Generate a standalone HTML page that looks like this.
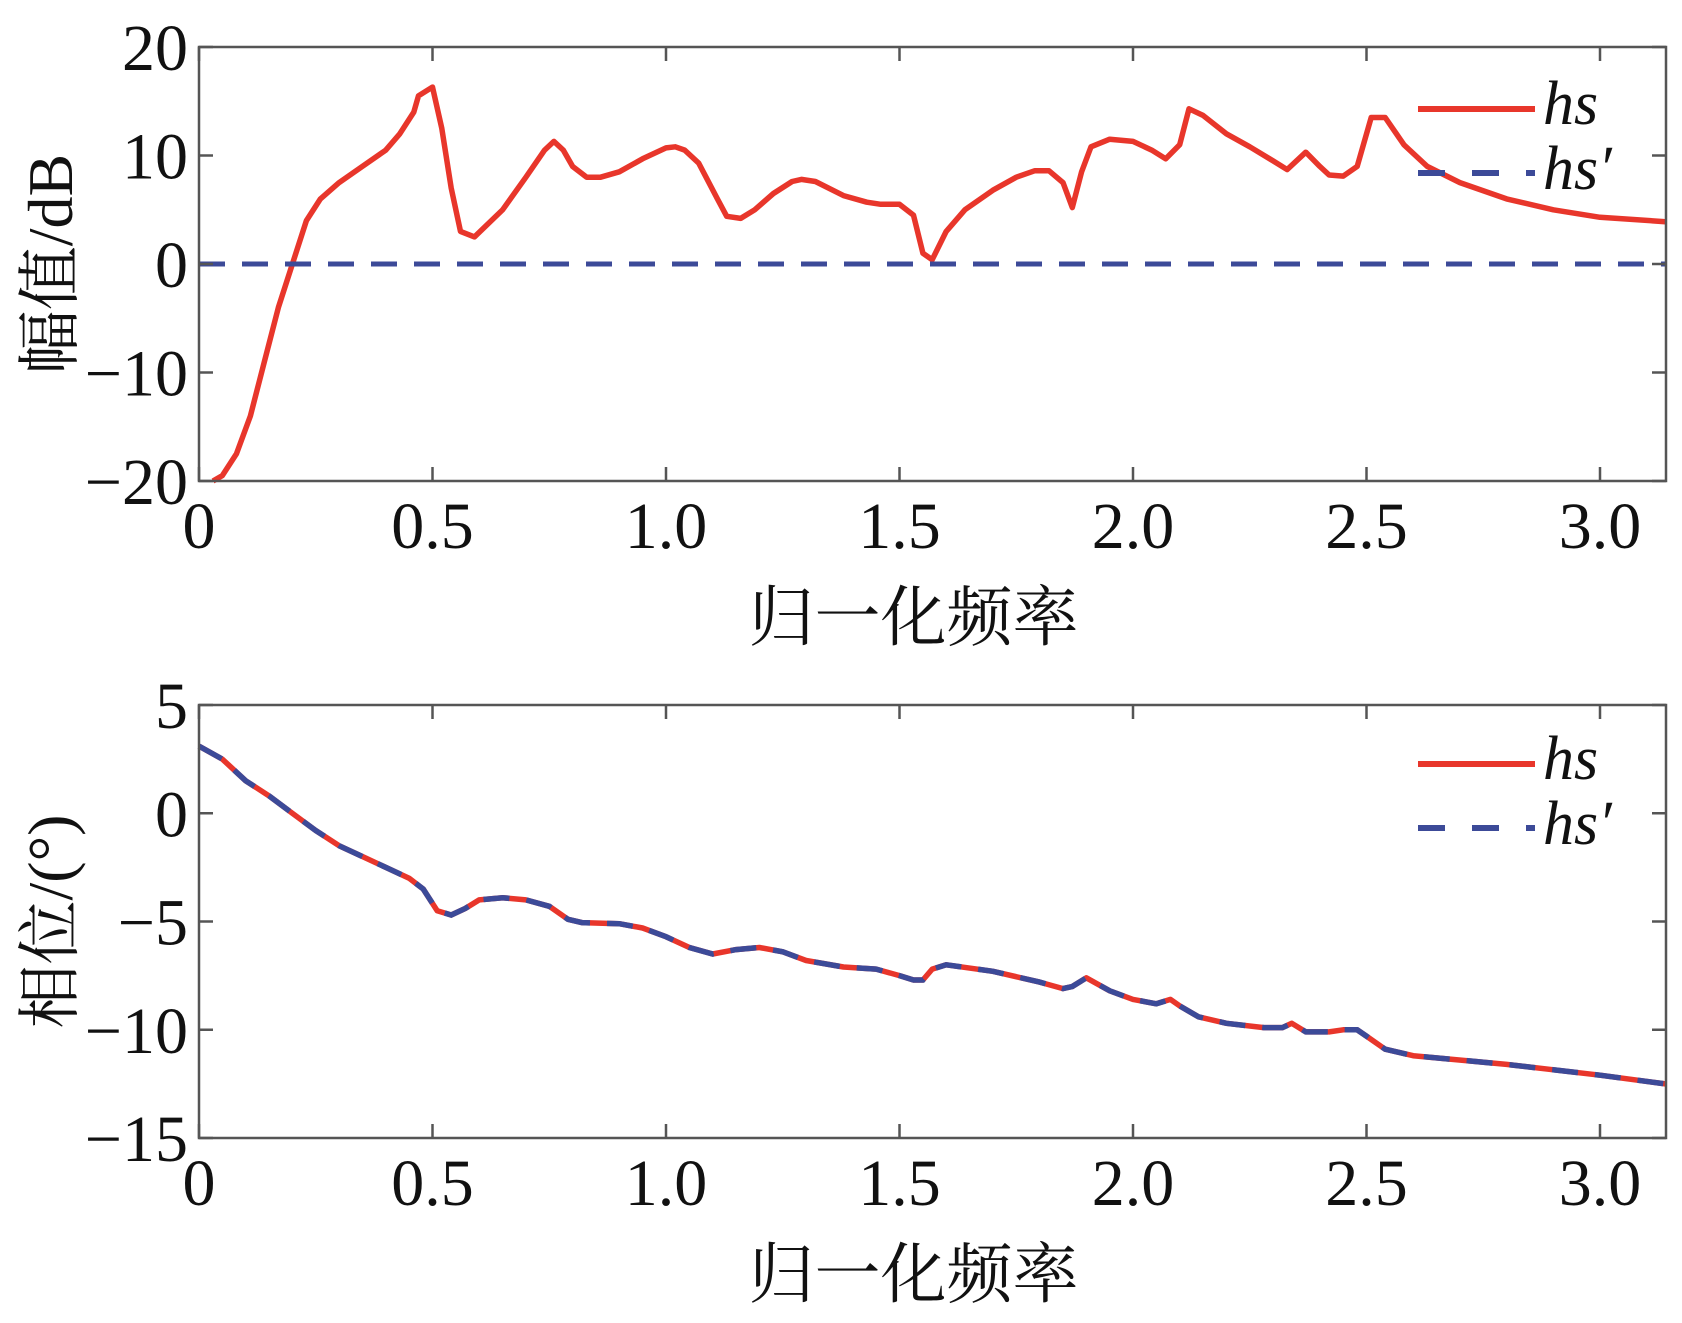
<!DOCTYPE html>
<html><head><meta charset="utf-8"><style>
html,body{margin:0;padding:0;background:#fff;}
svg{display:block;}
text{font-family:"Liberation Serif","Times New Roman",serif;fill:#111;}
.cjk{font-family:"Liberation Serif","Noto Serif CJK SC","Noto Sans CJK SC",serif;}
</style></head><body>
<svg id="s" width="1682" height="1323" viewBox="0 0 1682 1323" xmlns="http://www.w3.org/2000/svg">
<g id="g"></g>
</svg>
<script>
const NS="http://www.w3.org/2000/svg";const g=document.getElementById('g');
function el(t,a,txt){const e=document.createElementNS(NS,t);for(const k in a)e.setAttribute(k,a[k]);if(txt!==undefined)e.textContent=txt;g.appendChild(e);return e;}
const X0=199,XS=467,R=1666;
const mag=[[0.03,-20],[0.05,-19.5],[0.08,-17.5],[0.11,-14],[0.14,-9],[0.17,-4],[0.2,0],[0.23,4],[0.26,6],[0.3,7.5],[0.35,9],[0.4,10.5],[0.43,12],[0.46,14],[0.47,15.5],[0.5,16.3],[0.52,12.5],[0.54,7],[0.56,3],[0.59,2.5],[0.65,5],[0.7,8],[0.74,10.5],[0.76,11.3],[0.78,10.5],[0.8,9],[0.83,8],[0.86,8],[0.9,8.5],[0.95,9.7],[1.0,10.7],[1.02,10.8],[1.04,10.5],[1.07,9.3],[1.11,6],[1.13,4.4],[1.16,4.2],[1.19,5],[1.23,6.5],[1.27,7.6],[1.29,7.8],[1.32,7.6],[1.38,6.3],[1.43,5.7],[1.46,5.5],[1.5,5.5],[1.53,4.5],[1.55,1],[1.57,0.4],[1.6,3],[1.64,5],[1.7,6.8],[1.75,8],[1.79,8.6],[1.82,8.6],[1.85,7.5],[1.87,5.2],[1.89,8.5],[1.91,10.8],[1.95,11.5],[2.0,11.3],[2.04,10.5],[2.07,9.7],[2.1,11],[2.12,14.3],[2.15,13.7],[2.2,12],[2.25,10.8],[2.3,9.5],[2.33,8.7],[2.37,10.3],[2.4,9],[2.42,8.2],[2.45,8.1],[2.48,9],[2.51,13.5],[2.54,13.5],[2.58,11],[2.63,9],[2.7,7.5],[2.8,6],[2.9,5],[3.0,4.3],[3.14,3.9]];
const ph=[[0,3.1],[0.05,2.5],[0.1,1.5],[0.15,0.8],[0.2,0],[0.25,-0.8],[0.3,-1.5],[0.35,-2],[0.4,-2.5],[0.45,-3],[0.48,-3.5],[0.51,-4.5],[0.54,-4.7],[0.57,-4.4],[0.6,-4],[0.65,-3.9],[0.7,-4],[0.75,-4.3],[0.79,-4.9],[0.82,-5.05],[0.9,-5.1],[0.95,-5.3],[1.0,-5.7],[1.05,-6.2],[1.1,-6.5],[1.15,-6.3],[1.2,-6.2],[1.25,-6.4],[1.3,-6.8],[1.38,-7.1],[1.45,-7.2],[1.5,-7.5],[1.53,-7.7],[1.55,-7.7],[1.57,-7.2],[1.6,-7],[1.7,-7.3],[1.8,-7.8],[1.85,-8.1],[1.87,-8],[1.9,-7.6],[1.95,-8.2],[2.0,-8.6],[2.05,-8.8],[2.08,-8.6],[2.1,-8.9],[2.14,-9.4],[2.2,-9.7],[2.28,-9.9],[2.32,-9.9],[2.34,-9.7],[2.37,-10.1],[2.42,-10.1],[2.45,-10],[2.48,-10],[2.5,-10.3],[2.54,-10.9],[2.6,-11.2],[2.8,-11.6],[3.0,-12.1],[3.14,-12.5]];
function panel(T,B,y0,ys,ymin,ymax,ystep,data,ylab,xlabY,legY){
  const Y=v=>y0-ys*v;
  const pts=data.map(p=>(X0+XS*p[0]).toFixed(1)+','+Y(p[1]).toFixed(1)).join(' ');
  el('polyline',{points:pts,fill:'none',stroke:'#e8362b','stroke-width':5.5,'stroke-linejoin':'round'});
  if(data===ph) el('polyline',{points:pts,fill:'none',stroke:'#3c4a98','stroke-width':5.5,'stroke-dasharray':'26 17'});
  else el('line',{x1:X0,y1:Y(0),x2:R,y2:Y(0),stroke:'#3c4a98','stroke-width':5,'stroke-dasharray':'26 17'});
  el('rect',{x:X0,y:T,width:R-X0,height:B-T,fill:'none',stroke:'#555','stroke-width':2.5});
  for(let x=0;x<=3.01;x+=0.5){const px=X0+XS*x;el('line',{x1:px,y1:B,x2:px,y2:B-14,stroke:'#555','stroke-width':2.5});el('line',{x1:px,y1:T,x2:px,y2:T+14,stroke:'#555','stroke-width':2.5});
    el('text',{x:px,y:B+67,'font-size':66,'text-anchor':'middle'},x===0?'0':x.toFixed(1));}
  for(let v=ymin;v<=ymax;v+=ystep){const py=Y(v);el('line',{x1:X0,y1:py,x2:X0+14,y2:py,stroke:'#555','stroke-width':2.5});el('line',{x1:R,y1:py,x2:R-14,y2:py,stroke:'#555','stroke-width':2.5});
    el('text',{x:188,y:py+23,'font-size':66,'text-anchor':'end'},v<0?'\u2212'+(-v):String(v));}
  el('text',{x:(X0+R)/2-19,y:xlabY,'font-size':66,'text-anchor':'middle',class:'cjk'},'归一化频率');
  el('text',{x:0,y:0,'font-size':64,'text-anchor':'middle',class:'cjk',transform:`translate(72,${(T+B)/2}) rotate(-90)`},ylab);
  el('line',{x1:1418,y1:legY,x2:1535,y2:legY,stroke:'#e8362b','stroke-width':6});
  el('line',{x1:1418,y1:legY+64,x2:1535,y2:legY+64,stroke:'#3c4a98','stroke-width':6,'stroke-dasharray':'27 27'});
  el('text',{x:1543,y:legY+15,'font-size':62,'font-style':'italic'},'hs');
  el('text',{x:1543,y:legY+80,'font-size':62,'font-style':'italic'},'hs\u2032');
}
panel(47,481,264,10.85,-20,20,10,mag,'幅值/dB',640,109);
panel(705,1138,813.25,21.65,-15,5,5,ph,'相位/(°)',1297,764);
</script>
</body></html>
